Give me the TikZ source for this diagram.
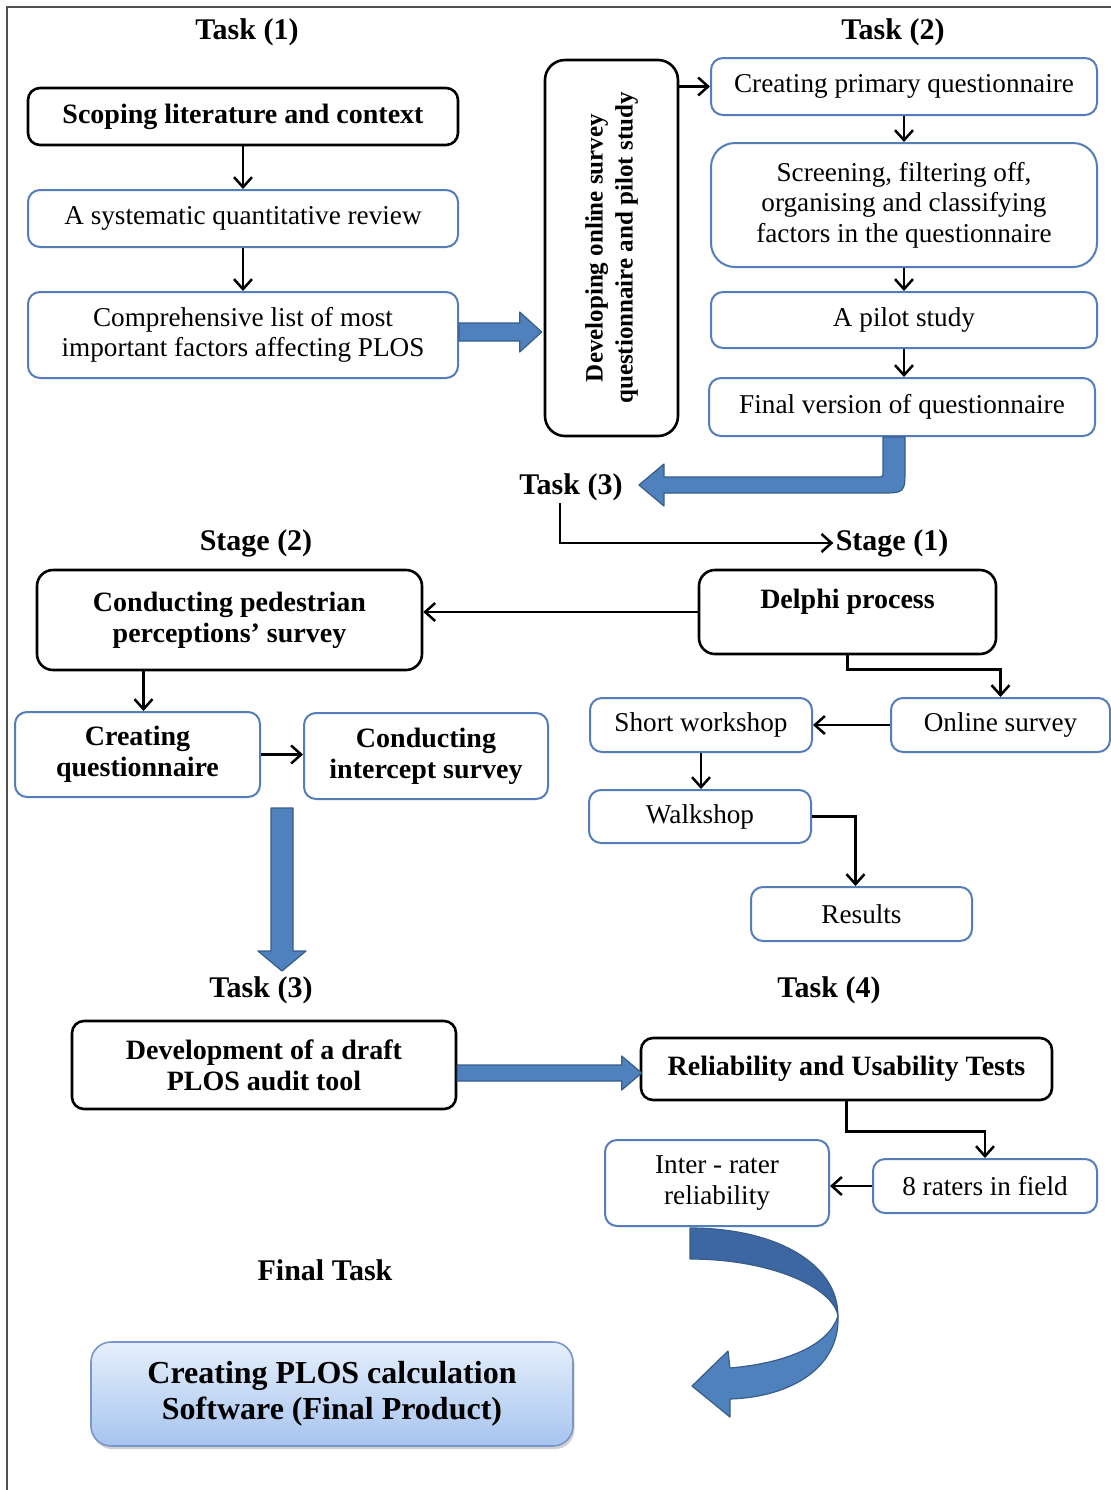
\documentclass[tikz,border=0pt]{standalone}
\usepackage{fontspec}
\setmainfont{Liberation Serif}
\usepackage{graphicx}
\usetikzlibrary{arrows.meta,calc,shadows}
\definecolor{bluebd}{RGB}{84,125,186}
\definecolor{fatfill}{RGB}{79,129,189}
\definecolor{fatline}{RGB}{56,93,138}
\definecolor{fatdark}{RGB}{60,103,162}
\definecolor{gradtop}{RGB}{230,239,251}
\definecolor{gradbot}{RGB}{166,196,239}
\definecolor{gradbd}{RGB}{120,150,200}
\definecolor{framec}{RGB}{80,80,80}
\newcommand\regfont{\fontsize{13.6}{15.3}\selectfont}
\newcommand\boldfont{\fontsize{14}{15.5}\selectfont\bfseries}
\newcommand\titlefont{\fontsize{15}{17}\selectfont\bfseries}
\newcommand\bigfont{\fontsize{16}{18}\selectfont\bfseries}
\newcommand\devfont{\fontsize{12.5}{15}\selectfont\bfseries}
\tikzset{
 base/.style={rectangle, align=center, inner sep=0pt, font=\regfont},
 blackbox/.style={base, draw=black, line width=1.3pt, rounded corners=6pt, fill=white},
 bluebox/.style={base, draw=bluebd, line width=1pt, rounded corners=6pt, fill=white},
 finalbox/.style={base, draw=gradbd, line width=0.8pt, rounded corners=10pt, top color=gradtop, bottom color=gradbot, drop shadow={opacity=0.35, shadow xshift=0.8pt, shadow yshift=-1.6pt}, font=\bigfont},
 title/.style={font=\titlefont, inner sep=1pt},
 arr/.style={line width=1.25pt, -{Straight Barb[length=5pt,width=9pt]}},
 fat/.style={fill=fatfill, draw=fatline, line width=0.6pt, line join=round},
}
\newcommand\bx[7]{\node[#2, minimum width={(#5-#3)*0.5pt}, minimum height={(#6-#4)*0.5pt}] (#1) at ({(#3+#5)/2},{(#4+#6)/2}) {#7};}
\newcommand\fatright[5]{\filldraw[fat] ($(#1)+(0,-#3)$) -- ($(#2)+(-#5,-#3)$) -- ($(#2)+(-#5,-#4)$) -- (#2) -- ($(#2)+(-#5,#4)$) -- ($(#2)+(-#5,#3)$) -- ($(#1)+(0,#3)$) -- cycle;}
\begin{document}
\begin{tikzpicture}[x=0.5pt,y=-0.5pt]
\useasboundingbox (0,0) rectangle (1111,1490);
\clip (0,0) rectangle (1111,1490);
\fill[white] (0,0) rectangle (1111,1490);
\draw[framec, line width=0.8pt] (7,7) rectangle (1130,1510);

% titles
\node[title] (t1) at (247,32) {Task (1)};
\node[title] (t2) at (893,32) {Task (2)};
\node[title] (t3a) at (571,487) {Task (3)};
\node[title] (s1) at (892,543) {Stage (1)};
\node[title] (s2) at (256,543) {Stage (2)};
\node[title] (t3b) at (261,990) {Task (3)};
\node[title] (t4) at (829,990) {Task (4)};
\node[title] (ft) at (325,1270) {Final Task};

% Task 1
\bx{scope}{blackbox,font=\boldfont}{28}{88}{458}{145}{Scoping literature and context}
\bx{sys}{bluebox}{28}{190}{458}{247}{A systematic quantitative review}
\bx{comp}{bluebox}{28}{292}{458}{378}{Comprehensive list of most\\important factors affecting PLOS}

% Task 2
\bx{dev}{blackbox,rounded corners=10pt,font=\devfont}{545}{60}{678}{436}{\rotatebox{90}{\begin{tabular}{@{}c@{}}Developing online survey\\questionnaire and pilot study\end{tabular}}}
\bx{prim}{bluebox}{711}{58}{1097}{115}{Creating primary questionnaire}
\bx{screen}{bluebox,rounded corners=12pt}{711}{143}{1097}{267}{Screening, filtering off,\\organising and classifying\\factors in the questionnaire}
\bx{pilot}{bluebox}{711}{292}{1097}{348}{A pilot study}
\bx{fin}{bluebox}{709}{378}{1095}{436}{Final version of questionnaire}

% Task 3 stages
\bx{ped}{blackbox,rounded corners=8pt,font=\boldfont}{37}{570}{422}{670}{Conducting pedestrian\\perceptions' survey}
\bx{delphi}{blackbox,rounded corners=8pt,font=\boldfont,text height=9.5pt,text depth=13pt}{699}{570}{996}{654}{Delphi process}
\bx{online}{bluebox}{891}{698}{1110}{752}{Online survey}
\bx{short}{bluebox}{590}{698}{812}{752}{Short workshop}
\bx{walk}{bluebox}{589}{790}{811}{843}{Walkshop}
\bx{results}{bluebox}{751}{887}{972}{941}{Results}
\bx{cq}{bluebox,font=\boldfont}{15}{712}{260}{797}{Creating\\questionnaire}
\bx{ci}{bluebox,font=\boldfont}{304}{713}{548}{799}{Conducting\\intercept survey}

% Task 3/4 lower
\bx{devt}{blackbox,font=\boldfont}{72}{1021}{456}{1109}{Development of a draft\\PLOS audit tool}
\bx{rel}{blackbox,font=\boldfont}{641}{1038}{1052}{1100}{Reliability and Usability Tests}
\bx{raters}{bluebox}{873}{1159}{1097}{1213}{8 raters in field}
\bx{inter}{bluebox}{605}{1140}{829}{1226}{Inter - rater\\reliability}

% final product
\bx{final}{finalbox}{91}{1342}{573}{1446}{Creating PLOS calculation\\Software (Final Product)}

% thin arrows
\draw[arr] (scope.south) -- (sys.north);
\draw[arr] (sys.south) -- (comp.north);
\draw[arr] (dev.east |- prim.west) -- (prim.west);
\draw[arr] (prim.south) -- (screen.north);
\draw[arr] (screen.south) -- (pilot.north);
\draw[arr] (pilot.south) -- (pilot.south |- fin.north);
\draw[arr] ([xshift=-5.5pt]t3a.south) |- (s1.west);
\draw[arr] (delphi.west) -- (delphi.west -| ped.east);
\draw[arr] (delphi.south) -- ++(0,14) -| (online.north);
\draw[arr] (online.west) -- (short.east);
\draw[arr] (short.south) -- (short.south |- walk.north);
\draw[arr] (walk.east) -| ($(results.north)+(-6,0)$);
\draw[arr] ($(cq.north |- ped.south)+(6,0)$) -- ($(cq.north)+(6,0)$);
\draw[arr] (cq.east) -- (cq.east -| ci.west);
\draw[arr] (rel.south) -- ++(0,30) -| (raters.north);
\draw[arr] (raters.west) -- (raters.west -| inter.east);

% fat straight arrows
\coordinate (A1) at ($(comp.east)+(0,-3)$);
\coordinate (T1) at ($(dev.west |- comp.east)+(-2,-3)$);
\fatright{A1}{T1}{9}{20}{22}
\coordinate (E2) at ($(rel.west)+(2,4)$);
\coordinate (E1) at (devt.east |- E2);
\fatright{E1}{E2}{8}{17}{20}

% fat down arrow
\coordinate (D0) at ($(cq.east)!0.5!(ci.west)$);
\coordinate (D1) at ($(D0 |- cq.south)+(0,10)$);
\coordinate (D2) at ($(D0 |- t3b.north)+(0,-3)$);
\filldraw[fat] ($(D1)+(-11,0)$) -- ($(D2)+(-11,-20)$) -- ($(D2)+(-24,-20)$) -- (D2) -- ($(D2)+(24,-20)$) -- ($(D2)+(11,-20)$) -- ($(D1)+(11,0)$) -- cycle;

% fat bent arrow
\coordinate (S) at ($(fin.south)+(-8,0)$);
\coordinate (T) at ($(t3a.east)+(14,-2)$);
\coordinate (C) at (S |- T);
\filldraw[fat] ($(S)+(-11,0)$) -- ($(C)+(-11,-14)$) .. controls ($(C)+(-11,-8)$) .. ($(C)+(-17,-8)$) -- ($(T)+(25,-8)$) -- ($(T)+(25,-21)$) -- (T) -- ($(T)+(25,21)$) -- ($(T)+(25,8)$) -- ($(C)+(-14,8)$) .. controls ($(C)+(11,8)$) .. ($(C)+(11,-17)$) -- ($(S)+(11,0)$) -- cycle;

% curved arrow
\coordinate (O) at (inter.south);
\filldraw[fat, fill=fatdark] ($(O)+(-27,1)$) .. controls ($(O)+(58,1)$) and ($(O)+(121,36)$) .. ($(O)+(121,89)$) .. controls ($(O)+(116,60)$) and ($(O)+(53,32)$) .. ($(O)+(-27,32)$) -- cycle;
\filldraw[fat] ($(O)+(121,89)$) .. controls ($(O)+(123,140)$) and ($(O)+(75,170)$) .. ($(O)+(13,172)$) -- ($(O)+(13,190)$) -- ($(O)+(-25,159)$) -- ($(O)+(11,124)$) -- ($(O)+(13,141)$) .. controls ($(O)+(70,136)$) and ($(O)+(112,118)$) .. ($(O)+(121,89)$) -- cycle;
\end{tikzpicture}
\end{document}
